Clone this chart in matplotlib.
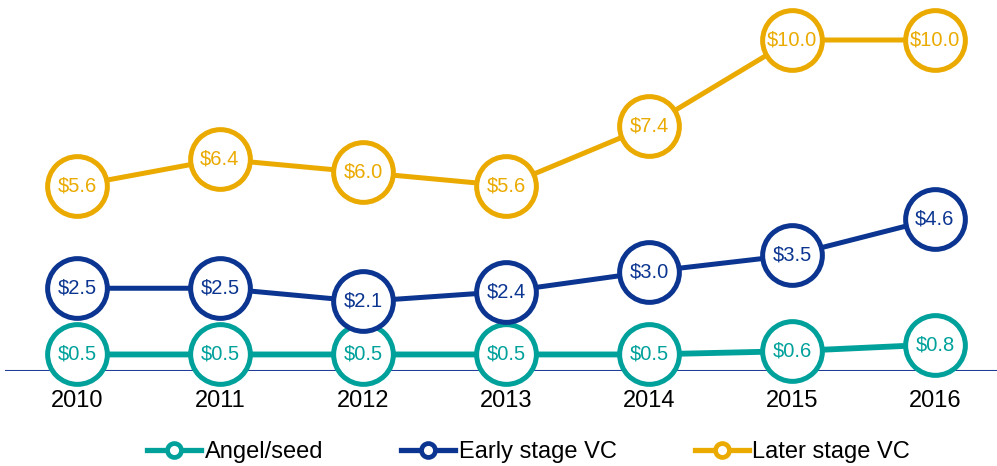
import matplotlib
matplotlib.use("Agg")
import matplotlib.pyplot as plt
from matplotlib.lines import Line2D

plt.rcParams['font.family'] = ['Liberation Sans', 'DejaVu Sans']

years = ["2010", "2011", "2012", "2013", "2014", "2015", "2016"]
angel_seed = [0.5, 0.5, 0.5, 0.5, 0.5, 0.6, 0.8]
early_vc = [2.5, 2.5, 2.1, 2.4, 3.0, 3.5, 4.6]
later_vc = [5.6, 6.4, 6.0, 5.6, 7.4, 10.0, 10.0]
series_names = ["Angel/seed", "Early stage VC", "Later stage VC"]
colors = ["#00A19B", "#0B3590", "#EAAA00"]
line_widths = [4.2, 3.6, 3.6]

W, H = 997, 466
fig = plt.figure(figsize=(W / 100, H / 100), dpi=100)
ax = fig.add_axes([5 / W, (H - 371) / H, 992 / W, 371 / H])

x = list(range(len(years)))
ax.set_xlim(-0.503, 6.434)
ax.set_ylim(0, 371 / 33.1)

for i, (vals, c, lw) in enumerate(zip([angel_seed, early_vc, later_vc], colors, line_widths)):
    z = 3 + i * 2
    ax.plot(x, vals, color=c, lw=lw, marker='o', ms=43, mfc='white',
            mec=c, mew=3.6, zorder=z, clip_on=False)
    for xi, v in zip(x, vals):
        ax.text(xi, v, f"${v:.1f}", color=c, fontsize=14.5, ha='center',
                va='center', zorder=z + 1, clip_on=False)

ax.axhline(0, color="#1F3D99", lw=1.5, zorder=2)

for s in ax.spines.values():
    s.set_visible(False)
ax.set_yticks([])
ax.set_xticks(x)
ax.set_xticklabels(years, fontsize=17)
ax.tick_params(axis='x', length=0, pad=14)

handles = [Line2D([0], [0], color=c, lw=3.8, marker='o', ms=10, mfc='white',
                  mec=c, mew=3.4) for c in colors]
fig.legend(handles, series_names, loc='center', bbox_to_anchor=(0.53, 1 - 452 / H),
           ncol=3, frameon=False, fontsize=17, handlelength=2.3,
           handletextpad=0.15, columnspacing=3.3)

fig.savefig("out.png", dpi=100)
